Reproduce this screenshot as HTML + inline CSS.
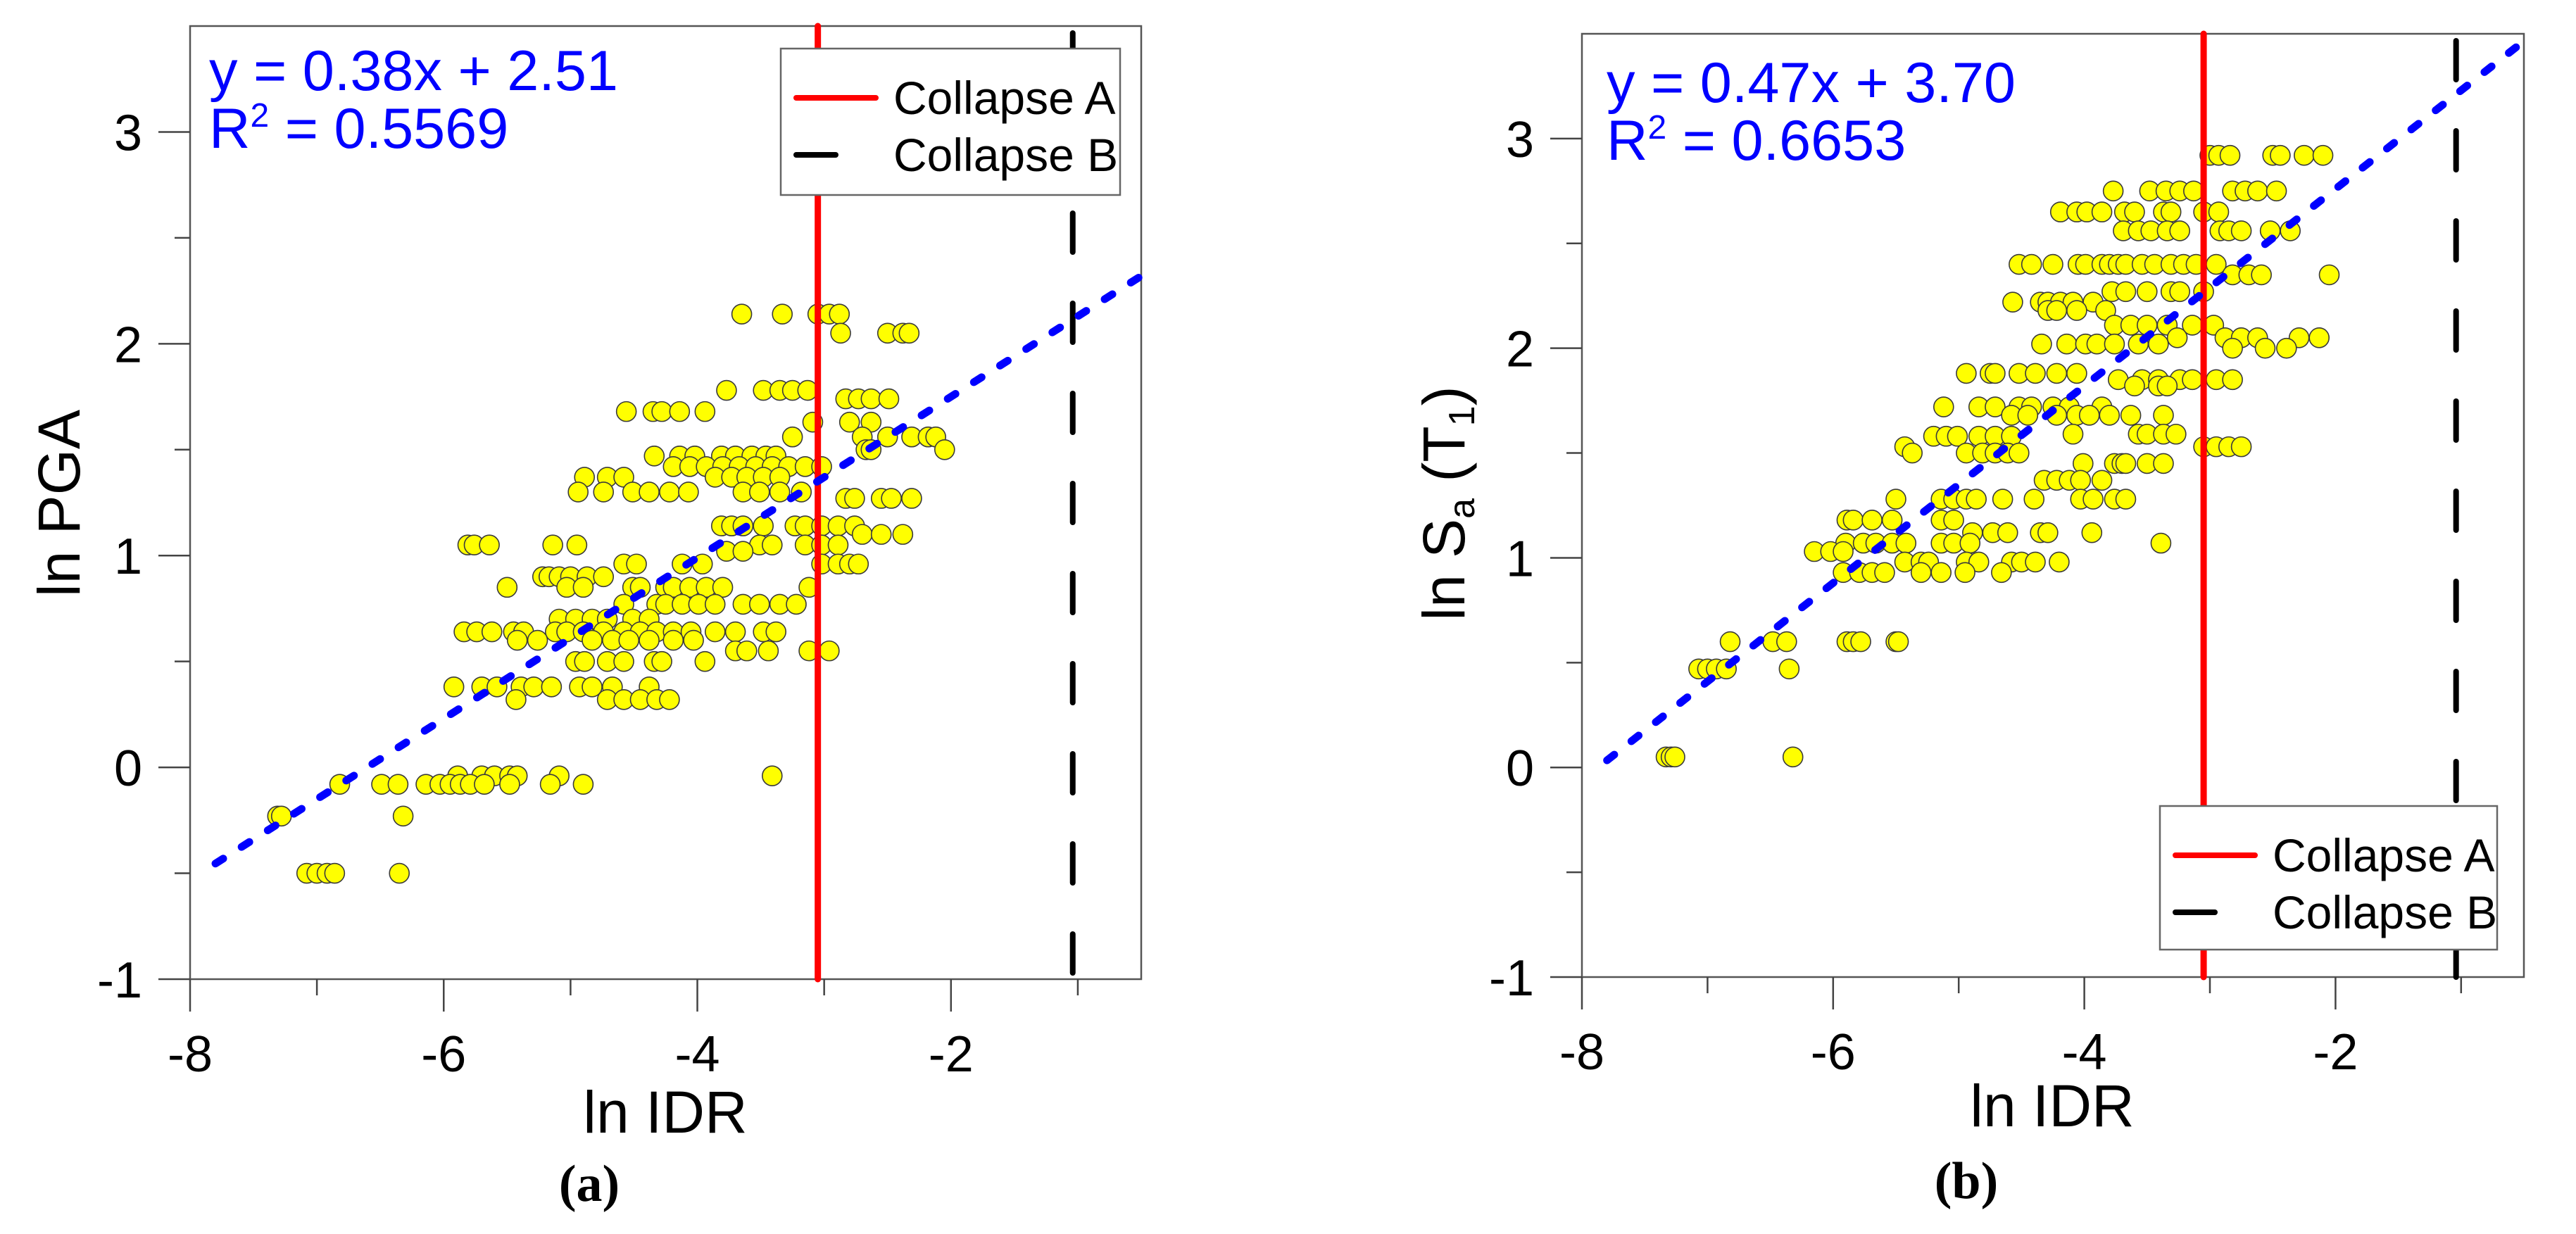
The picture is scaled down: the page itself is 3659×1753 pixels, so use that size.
<!DOCTYPE html>
<html><head><meta charset="utf-8"><style>
html,body{margin:0;padding:0;background:#fff}
svg{display:block;font-family:"Liberation Sans",Arial,sans-serif}
</style></head><body>
<svg id="fig" width="3659" height="1753" viewBox="0 0 3659 1753" xmlns="http://www.w3.org/2000/svg"></svg>
<script>
// ---------- Panel (a) data: ln PGA vs ln IDR ----------
const aRowY = [2.14,2.05,1.78,1.74,1.68,1.63,1.56,1.50,1.47,1.42,1.37,1.30,1.27,1.14,1.10,1.05,1.02,0.96,0.90,0.85,0.77,0.70,0.64,0.60,0.55,0.50,0.38,0.32,-0.04,-0.08,-0.23,-0.50];
const aRowX = [
[-3.65,-3.33,-3.05,-2.96,-2.88],
[-2.87,-2.50,-2.38,-2.33],
[-3.77,-3.48,-3.35,-3.25,-3.13],
[-2.83,-2.73,-2.63,-2.49],
[-4.56,-4.35,-4.28,-4.14,-3.94],
[-3.09,-2.80,-2.63],
[-3.25,-2.70,-2.50,-2.31,-2.18,-2.12],
[-2.05,-2.67,-2.63],
[-4.34,-4.14,-4.02,-3.81,-3.70,-3.57,-3.46,-3.38],
[-4.19,-4.06,-3.93,-3.80,-3.67,-3.54,-3.41,-3.28,-3.15,-3.02],
[-4.89,-4.71,-4.58,-3.86,-3.73,-3.61,-3.48,-3.35],
[-4.94,-4.74,-4.51,-4.38,-4.22,-4.07,-3.64,-3.51,-3.35,-3.18],
[-2.83,-2.76,-2.55,-2.47,-2.31],
[-3.81,-3.73,-3.64,-3.48,-3.23,-3.15,-3.02,-2.89,-2.76],
[-2.70,-2.55,-2.38],
[-5.81,-5.76,-5.64,-5.14,-4.95,-3.51,-3.41,-3.15,-3.02,-2.89],
[-3.77,-3.64],
[-4.58,-4.48,-4.12,-3.96,-3.02,-2.89,-2.80,-2.73],
[-5.22,-5.17,-5.09,-5.00,-4.87,-4.74],
[-5.50,-5.03,-4.90,-4.51,-4.45,-4.25,-4.19,-4.06,-3.93,-3.80,-3.12],
[-4.58,-4.32,-4.25,-4.12,-3.99,-3.86,-3.64,-3.51,-3.35,-3.22],
[-5.09,-4.96,-4.83,-4.71,-4.51,-4.38],
[-5.84,-5.74,-5.62,-5.45,-5.37,-5.12,-5.03,-4.90,-4.74,-4.58,-4.45,-4.32,-4.19,-4.05,-3.86,-3.70,-3.48,-3.38],
[-5.42,-5.26,-4.83,-4.67,-4.54,-4.38,-4.19,-4.03],
[-3.70,-3.61,-3.44,-3.12,-2.96],
[-4.96,-4.89,-4.71,-4.58,-4.34,-4.28,-3.94],
[-5.92,-5.70,-5.58,-5.39,-5.29,-5.15,-4.93,-4.83,-4.67,-4.38],
[-5.43,-4.71,-4.58,-4.45,-4.32,-4.22],
[-5.89,-5.70,-5.60,-5.48,-5.42,-3.41,-5.09],
[-6.14,-6.03,-5.95,-5.87,-5.79,-5.68,-5.48,-6.49,-6.36,-5.16,-4.90,-6.82],
[-7.31,-7.28,-6.32],
[-7.08,-7.00,-6.92,-6.86,-6.35]
];
const aFit = [0.38, 2.51];
const aFitRange = [-7.8, -0.5];
// ---------- Panel (b) data: ln Sa(T1) vs ln IDR ----------
const bRowY = [2.92,2.75,2.65,2.56,2.40,2.35,2.27,2.22,2.18,2.11,2.05,2.02,2.00,1.88,1.85,1.82,1.72,1.68,1.59,1.58,1.53,1.50,1.45,1.37,1.28,1.18,1.12,1.07,1.03,0.98,0.93,0.60,0.47,0.05];
const bRowX = [
[-3.00,-2.93,-2.84,-2.50,-2.44,-2.25,-2.10],
[-3.77,-3.48,-3.35,-3.24,-3.13,-2.82,-2.72,-2.62,-2.47],
[-4.19,-4.06,-3.98,-3.86,-3.68,-3.60,-3.37,-3.31,-3.05,-2.93],
[-3.69,-3.57,-3.47,-3.34,-3.24,-2.92,-2.85,-2.75,-2.52,-2.36],
[-4.52,-4.42,-4.25,-4.05,-3.99,-3.86,-3.80,-3.73,-3.67,-3.54,-3.44,-3.31,-3.21,-3.11,-2.95],
[-2.82,-2.69,-2.59,-2.05],
[-3.78,-3.67,-3.50,-3.31,-3.24,-3.05],
[-4.57,-4.35,-4.29,-4.19,-4.09,-3.93],
[-4.29,-4.22,-4.06,-3.83],
[-3.76,-3.63,-3.50,-3.34,-3.14,-2.97],
[-2.88,-2.75,-2.62,-2.29,-2.13,-3.26],
[-4.34,-4.14,-3.99,-3.90,-3.76,-3.57,-3.41],
[-2.82,-2.56,-2.39],
[-4.94,-4.75,-4.71,-4.52,-4.39,-4.22,-4.06],
[-3.73,-3.54,-3.41,-3.24,-3.14,-2.95,-2.82],
[-3.60,-3.41,-3.34],
[-5.12,-4.84,-4.71,-4.52,-4.42,-4.25,-4.12,-3.86],
[-4.58,-4.45,-4.22,-4.06,-3.96,-3.80,-3.63,-3.37],
[-4.09,-3.57,-3.50,-3.37,-3.27],
[-5.20,-5.10,-5.01,-4.84,-4.71,-4.58],
[-5.43,-3.05,-2.95,-2.85,-2.75],
[-5.37,-4.94,-4.81,-4.71,-4.61,-4.52],
[-4.01,-3.76,-3.70,-3.67,-3.50,-3.37],
[-4.32,-4.22,-4.12,-4.03,-3.86],
[-5.50,-5.14,-5.04,-4.94,-4.86,-4.65,-4.40,-4.03,-3.93,-3.76,-3.67],
[-5.89,-5.84,-5.69,-5.53,-5.14,-5.04],
[-4.89,-4.73,-4.61,-4.35,-4.29,-3.94],
[-5.90,-5.76,-5.66,-5.53,-5.42,-5.14,-5.04,-4.91,-3.39],
[-6.15,-6.02,-5.92],
[-5.43,-5.30,-5.24,-4.94,-4.84,-4.58,-4.50,-4.39,-4.20],
[-5.92,-5.79,-5.69,-5.59,-5.30,-5.14,-4.95,-4.66],
[-5.89,-5.84,-5.78,-5.50,-5.48,-6.82,-6.48,-6.37],
[-7.07,-7.00,-6.93,-6.85,-6.35],
[-7.33,-7.29,-7.26,-6.32]
];
const bFit = [0.47, 3.70];
const bFitRange = [-7.8, -0.5];
// ---------- shared axes ----------
const xDomain = [-8, -0.5];
const yDomain = [-1, 3.5];
const xMajorTicks = [-8, -6, -4, -2];
const xMinorTicks = [-7, -5, -3, -1];
const yMajorTicks = [-1, 0, 1, 2, 3];
const yMinorTicks = [-0.5, 0.5, 1.5, 2.5];
const collapseA = -3.05;
const collapseB = -1.04;

const NS = "http://www.w3.org/2000/svg";
const svg = document.getElementById('fig');
function mk(tag, attrs, parent){
  const e = document.createElementNS(NS, tag);
  for (const k in attrs) e.setAttribute(k, attrs[k]);
  (parent || svg).appendChild(e);
  return e;
}

function drawPanel(p){
  const g = mk('g', {});
  
  
  const sx = v => p.x0 + (v - xDomain[0]) / (xDomain[1] - xDomain[0]) * (p.x1 - p.x0);
  const sy = v => p.yB - (v - yDomain[0]) / (yDomain[1] - yDomain[0]) * (p.yB - p.yT);

  const fr = mk('rect', {x:p.x0, y:p.yT, width:p.x1-p.x0, height:p.yB-p.yT, fill:'none', stroke:'#555', 'stroke-width':2.5}, g);
  
  

  xMajorTicks.forEach(t => {
    const l = mk('line', {x1:sx(t), x2:sx(t), y1:p.yB, y2:p.yB+46, stroke:'#444', 'stroke-width':2.5}, g);
    
    
    const tx = mk('text', {x:sx(t), y:p.yB+131, 'font-size':72, 'text-anchor':'middle', fill:'#000'}, g);
    tx.textContent = t;
    
    
  });
  xMinorTicks.forEach(t => {
    const l = mk('line', {x1:sx(t), x2:sx(t), y1:p.yB, y2:p.yB+23, stroke:'#444', 'stroke-width':2.5}, g);
    
    
  });
  yMajorTicks.forEach(t => {
    const l = mk('line', {x1:p.x0-45, x2:p.x0, y1:sy(t), y2:sy(t), stroke:'#444', 'stroke-width':2.5}, g);
    
    
    const tx = mk('text', {x:p.x0-68, y:sy(t)+26, 'font-size':72, 'text-anchor':'end', fill:'#000'}, g);
    tx.textContent = t;
    
    
  });
  yMinorTicks.forEach(t => {
    const l = mk('line', {x1:p.x0-22, x2:p.x0, y1:sy(t), y2:sy(t), stroke:'#444', 'stroke-width':2.5}, g);
    
    
  });

  const pg = mk('g', {}, g);
  
  
  p.rowY.forEach((yv, i) => {
    p.rowX[i].forEach(xv => {
      const c = mk('circle', {cx:sx(xv), cy:sy(yv), r:14, fill:'#ffff00', stroke:'#3a3a3a', 'stroke-width':1.6}, pg);
      
      
    });
  });

  const ra = mk('line', {x1:sx(collapseA), x2:sx(collapseA), y1:p.yT, y2:p.yB, stroke:'#ff0000', 'stroke-width':9, 'stroke-linecap':'round'}, g);
  
  
  const rb = mk('line', {x1:sx(collapseB), x2:sx(collapseB), y1:p.yT+10, y2:p.yB, stroke:'#000', 'stroke-width':8, 'stroke-linecap':'round', 'stroke-dasharray':'55 73'}, g);
  
  

  const tl = mk('line', {x1:sx(p.fitRange[0]), y1:sy(p.fit[0]*p.fitRange[0]+p.fit[1]), x2:sx(p.fitRange[1]), y2:sy(p.fit[0]*p.fitRange[1]+p.fit[1]), stroke:'#0000ff', 'stroke-width':11, 'stroke-linecap':'round', 'stroke-dasharray':'13 31'}, g);
  
  

  const e1 = mk('text', {x:p.eqX, y:p.eqY, 'font-size':81, fill:'#0000ff'}, g);
  e1.textContent = 'y = ' + p.fit[0].toFixed(2) + 'x + ' + p.fit[1].toFixed(2);
  
  
  const e2 = mk('text', {x:p.eqX, y:p.eqY+82, 'font-size':81, fill:'#0000ff'}, g);
  
  
  const t1 = mk('tspan', {}, e2); t1.textContent = 'R';
  const t2 = mk('tspan', {'font-size':48, dy:-30}, e2); t2.textContent = '2';
  const t3 = mk('tspan', {dy:30}, e2); t3.textContent = ' = ' + p.r2;

  const lg = mk('g', {}, g);
  
  
  mk('rect', {x:p.lx, y:p.ly, width:p.lw, height:p.lh, fill:'#fff', stroke:'#666', 'stroke-width':2.5}, lg);
  const la = mk('line', {x1:p.lx+22, x2:p.lx+135, y1:p.ly+70, y2:p.ly+70, stroke:'#ff0000', 'stroke-width':8, 'stroke-linecap':'round'}, lg);
  
  
  const lta = mk('text', {x:p.lx+160, y:p.ly+93, 'font-size':66, fill:'#000'}, lg);
  lta.textContent = 'Collapse A';
  
  
  const lb = mk('line', {x1:p.lx+22, x2:p.lx+78, y1:p.ly+151, y2:p.ly+151, stroke:'#000', 'stroke-width':8, 'stroke-linecap':'round'}, lg);
  
  
  const ltb = mk('text', {x:p.lx+160, y:p.ly+174, 'font-size':66, fill:'#000'}, lg);
  ltb.textContent = 'Collapse B';
  
  

  const xt = mk('text', {x:p.xtX, y:p.xtY, 'font-size':84, 'text-anchor':'middle', fill:'#000'}, g);
  xt.textContent = 'ln IDR';
  
  
  const yt = mk('text', {x:0, y:0, 'font-size':84, 'text-anchor':'middle', fill:'#000', transform:'translate('+p.ytX+','+p.ytY+') rotate(-90)'}, g);
  
  
  p.yTitle(yt);
  const cap = mk('text', {x:p.capX, y:p.capY, 'font-size':74, 'font-weight':'bold', 'text-anchor':'middle', fill:'#000', 'font-family':'"Liberation Serif",serif'}, g);
  cap.textContent = p.caption;
  
  
}

drawPanel({id:'panel-a', x0:270, x1:1621, yB:1391, yT:37, rowY:aRowY, rowX:aRowX, fit:aFit, fitRange:aFitRange,
  r2:'0.5569', eqX:297, eqY:128, lx:1109, ly:69, lw:482, lh:208,
  xtX:945, xtY:1609, ytX:113, ytY:715, capX:837, capY:1706, caption:'(a)',
  yTitle: t => { t.textContent = 'ln PGA'; }});
drawPanel({id:'panel-b', x0:2247, x1:3585, yB:1388, yT:48, rowY:bRowY, rowX:bRowX, fit:bFit, fitRange:bFitRange,
  r2:'0.6653', eqX:2282, eqY:145, lx:3068, ly:1145, lw:479, lh:204,
  xtX:2915, xtY:1600, ytX:2080, ytY:715, capX:2793, capY:1702, caption:'(b)',
  yTitle: t => {
    const a = mk('tspan', {}, t); a.textContent = 'ln S';
    const b = mk('tspan', {'font-size':52, dy:14}, t); b.textContent = 'a';
    const c = mk('tspan', {dy:-14}, t); c.textContent = ' (T';
    const d = mk('tspan', {'font-size':52, dy:14}, t); d.textContent = '1';
    const e = mk('tspan', {dy:-14}, t); e.textContent = ')';
  }});
</script>
</body></html>
